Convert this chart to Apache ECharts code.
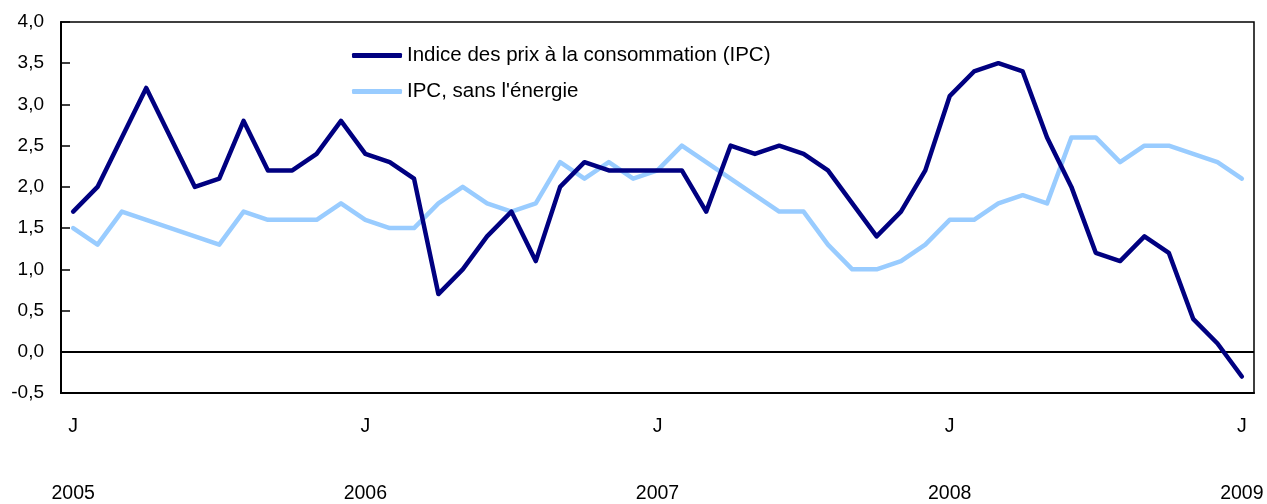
<!DOCTYPE html>
<html>
<head>
<meta charset="utf-8">
<script src="https://cdn.jsdelivr.net/npm/echarts@6/dist/echarts.min.js"></script>
<style>
html,body{margin:0;padding:0;background:#fff;}
#chart{width:1267px;height:504px;}
</style>
</head>
<body>
<div id="chart"></div>
<script>
const months = [];
for (let y = 2005; y <= 2009; y++) {
  for (let m = 1; m <= 12; m++) {
    if (y === 2009 && m > 1) break;
    months.push(y + '-' + (m < 10 ? '0' + m : m));
  }
}
const seriesNames = ['Indice des prix à la consommation (IPC)', "IPC, sans l'énergie"];
const cpi = [
  1.7, 2.0, 2.6, 3.2, 2.6, 2.0, 2.1, 2.8, 2.2, 2.2, 2.4, 2.8,
  2.4, 2.3, 2.1, 0.7, 1.0, 1.4, 1.7, 1.1, 2.0, 2.3, 2.2, 2.2,
  2.2, 2.2, 1.7, 2.5, 2.4, 2.5, 2.4, 2.2, 1.8, 1.4, 1.7, 2.2,
  3.1, 3.4, 3.5, 3.4, 2.6, 2.0, 1.2, 1.1, 1.4, 1.2, 0.4, 0.1,
  -0.3
];
const cpiExEnergy = [
  1.5, 1.3, 1.7, 1.6, 1.5, 1.4, 1.3, 1.7, 1.6, 1.6, 1.6, 1.8,
  1.6, 1.5, 1.5, 1.8, 2.0, 1.8, 1.7, 1.8, 2.3, 2.1, 2.3, 2.1,
  2.2, 2.5, 2.3, 2.1, 1.9, 1.7, 1.7, 1.3, 1.0, 1.0, 1.1, 1.3,
  1.6, 1.6, 1.8, 1.9, 1.8, 2.6, 2.6, 2.3, 2.5, 2.5, 2.4, 2.3,
  2.1
];
const yTicks = { min: -0.5, max: 4.0, interval: 0.5 };

const FONT = 'Liberation Sans';
const chart = echarts.init(document.getElementById('chart'), null, { renderer: 'canvas' });
chart.setOption({
  animation: false,
  backgroundColor: '#fff',
  textStyle: { fontFamily: FONT },
  grid: { left: 61, right: 13, top: 22, bottom: 108.5, show: true, borderColor: '#000', borderWidth: 1.5, containLabel: false },
  legend: {
    orient: 'vertical', left: 352, top: 44.5, padding: 0, itemWidth: 50, itemHeight: 5, itemGap: 14,
    icon: 'roundRect',
    textStyle: { fontFamily: FONT, fontSize: 20.5, color: '#000', lineHeight: 22 },
    data: seriesNames
  },
  xAxis: [{
    type: 'category', data: months, boundaryGap: true,
    axisLine: { onZero: false, lineStyle: { color: '#000', width: 2 } },
    axisTick: { inside: true, length: 8, interval: 0, alignWithLabel: false, lineStyle: { color: '#000', width: 1.5 } },
    axisLabel: { interval: 11, margin: 24, color: '#000', fontFamily: FONT, fontSize: 19.5, formatter: () => 'J' }
  }, {
    type: 'category', data: months, boundaryGap: true, position: 'bottom', offset: 65,
    axisLine: { show: false }, axisTick: { show: false },
    axisLabel: { interval: 11, margin: 26, color: '#000', fontFamily: FONT, fontSize: 19.5, formatter: v => v.slice(0, 4) }
  }],
  yAxis: {
    type: 'value', min: yTicks.min, max: yTicks.max, interval: yTicks.interval,
    axisLine: { show: true, lineStyle: { color: '#000', width: 2 } },
    axisTick: { show: true, inside: true, length: 9, lineStyle: { color: '#000', width: 1.5 } },
    splitLine: { show: false },
    axisLabel: { margin: 17, color: '#000', fontFamily: FONT, fontSize: 19, formatter: v => v.toFixed(1).replace('.', ',') }
  },
  series: [{
    name: seriesNames[0], type: 'line', data: cpi, symbol: 'none', z: 3,
    lineStyle: { color: '#000080', width: 4.5, cap: 'round', join: 'round' }, itemStyle: { color: '#000080' },
    markLine: { silent: true, symbol: 'none', label: { show: false }, lineStyle: { color: '#000', width: 1.8, type: 'solid' }, data: [{ yAxis: 0 }], z: 1 }
  }, {
    name: seriesNames[1], type: 'line', data: cpiExEnergy, symbol: 'none', z: 2,
    lineStyle: { color: '#99CCFF', width: 4.5, cap: 'round', join: 'round' }, itemStyle: { color: '#99CCFF' }
  }]
});
</script>
</body>
</html>
